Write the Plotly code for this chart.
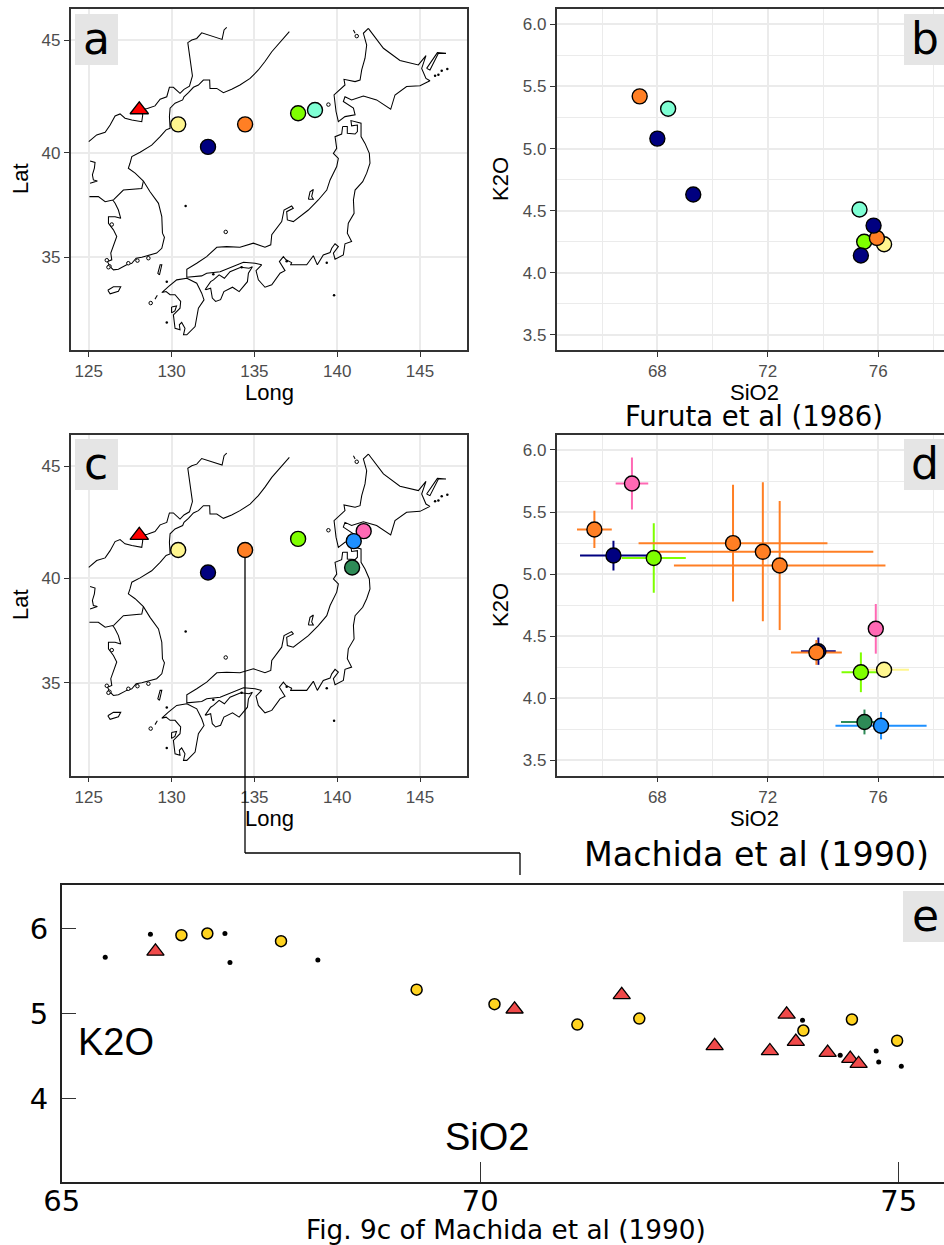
import math
import plotly.graph_objects as go

W, H = 944, 1245

# ---------- coastline polylines (long, lat) ----------
border_lon = [125.00,125.48,125.99,126.29,126.59,126.89,127.19,127.60,128.20,128.26,128.10,128.54,129.00,129.31,129.71,129.87,130.11,130.51,130.75,131.08,131.26,131.18,130.98,131.22,131.52,131.82,133.05,133.17,133.33]
border_lat = [40.51,40.82,40.94,41.27,41.68,41.77,41.58,41.50,41.42,41.73,41.95,42.01,42.13,42.43,42.54,42.96,42.96,42.69,42.87,43.01,43.46,43.94,44.90,45.01,45.08,45.32,45.04,45.44,45.55]
mainland_lon = [137.11,136.55,136.05,135.64,135.24,134.74,134.13,133.63,133.13,132.73,132.32,132.30,131.92,131.62,131.32,131.02,130.75,130.67,130.21,129.91,129.87,129.91,129.67,129.31,128.80,128.10,127.60,127.49,127.39,127.80,128.30,128.70,129.21,129.41,129.45,129.57,129.41,129.10,128.60,128.20,127.86,127.60,127.29,127.09,126.79,126.49,126.29,126.13,126.39,126.33,126.59,126.69,126.49,126.19,126.19,126.59,126.93,126.79,126.59,126.45,125.99,125.58,125.04]
mainland_lat = [45.37,44.94,44.51,44.09,43.72,43.35,43.06,42.87,42.72,42.91,42.91,43.28,43.28,43.06,42.96,42.72,42.54,42.40,42.25,42.03,41.65,41.12,41.05,40.74,40.35,40.02,39.82,39.51,39.28,39.05,38.68,38.17,37.62,36.98,36.18,35.98,35.44,35.20,35.08,35.00,34.95,34.70,34.62,34.53,34.40,34.37,34.53,34.78,34.87,35.20,35.77,36.02,36.34,36.66,36.98,36.98,36.90,37.30,37.62,37.78,37.70,37.94,37.94]
dmz_lon = [128.30,128.20,127.09,126.49]
dmz_lat = [38.68,38.33,38.25,37.78]
liaodong_lon = [125.08,125.38,125.34,125.22,125.28,125.52,125.08]
liaodong_lat = [39.62,39.55,39.28,38.97,38.73,38.68,38.57]
honshu_lon = [140.33,140.61,140.61,141.08,141.22,141.22,140.87,140.83,141.44,141.44,141.68,141.94,141.98,141.78,141.54,141.08,140.98,141.02,140.67,140.61,140.87,140.47,140.37,139.87,139.77,140.07,139.87,139.67,139.57,139.16,138.80,138.56,138.16,137.19,137.25,136.91,136.75,136.51,136.85,136.55,136.05,135.64,135.24,135.10,135.44,135.04,134.34,133.63,132.93,132.12,131.82,130.92,130.92,131.52,132.12,132.73,133.33,134.13,134.94,135.64,135.99,136.05,136.65,136.79,137.25,137.35,136.95,136.99,137.35,138.26,138.86,139.37,139.57,139.97,140.07,139.77,139.97,139.87,140.27,140.33]
honshu_lat = [41.20,41.20,40.89,40.86,40.97,41.27,41.23,41.47,41.35,40.74,40.43,39.97,39.51,39.05,38.65,38.25,37.78,37.14,36.66,36.18,35.77,35.66,35.11,34.90,35.20,35.52,35.66,35.44,35.23,35.11,34.62,35.07,34.62,34.62,34.73,34.87,35.03,34.78,34.33,34.20,33.62,33.50,33.87,34.33,34.62,34.70,34.75,34.53,34.28,34.20,34.07,34.00,34.40,34.70,35.03,35.49,35.52,35.49,35.69,35.49,35.61,36.10,36.74,37.30,37.49,37.38,37.22,36.82,36.74,37.30,37.78,38.25,38.73,39.36,39.74,39.97,40.20,40.74,40.86,41.20]
kyushu_lon = [130.92,131.52,131.82,131.96,131.62,131.42,130.92,130.72,130.81,130.61,130.47,130.51,130.21,130.11,130.51,130.55,130.21,129.91,129.67,129.41,129.81,130.31,130.92]
kyushu_lat = [33.95,33.70,33.20,32.86,32.44,31.50,31.07,31.07,31.41,31.71,31.59,31.33,31.41,32.10,32.44,32.78,33.12,33.12,33.28,33.23,33.53,33.87,33.95]
shikoku_lon = [132.06,132.36,132.46,132.66,132.96,133.16,133.68,134.08,134.58,134.64,134.88,134.68,134.18,133.53,133.19,132.87,132.53,132.36,132.02]
shikoku_lat = [33.37,33.45,32.95,32.78,32.87,33.28,33.50,33.28,33.78,34.20,34.53,34.45,34.50,34.28,33.95,34.12,33.87,33.78,33.37]
hokkaido_lon = [141.88,141.58,141.78,141.68,141.48,141.38,141.08,140.41,140.47,139.81,139.93,140.07,140.47,141.08,140.98,140.37,140.47,140.87,141.58,142.38,143.23,143.49,144.19,145.00,145.60,145.36,145.10,145.36,144.90,143.79,142.79,142.28,141.88]
hokkaido_lat = [45.51,45.30,44.80,44.23,43.72,43.28,43.21,43.31,43.06,42.62,41.88,41.42,41.65,41.73,42.03,42.33,42.54,42.40,42.57,42.40,41.98,42.62,42.99,43.03,43.25,43.35,43.79,44.34,43.94,44.13,44.66,45.16,45.51]
kunashiri_lon = [145.40,145.60,146.11,146.57,146.05,145.40]
kunashiri_lat = [43.79,43.72,44.44,44.44,44.47,43.79]
jeju_lon = [126.15,126.49,126.93,126.79,126.29,126.15]
jeju_lat = [33.35,33.52,33.52,33.30,33.17,33.35]
tsushima_lon = [129.27,129.41,129.31,129.17,129.27]
tsushima_lat = [34.12,34.62,34.62,34.20,34.12]
goto_lon = [129.00,129.14]
goto_lat = [32.90,33.10]
sado_lon = [138.26,138.36,138.56,138.46,138.56,138.26]
sado_lat = [37.81,38.17,38.28,37.95,37.81,37.81]
amakusa_lon = [130.00,130.30,130.20,130.00,130.00]
amakusa_lat = [32.50,32.55,32.30,32.20,32.50]
rebun_lon = [140.98,141.08]
rebun_lat = [45.44,45.30]
dot_lon = [145.91,146.11,146.31,146.65,130.85,129.71,129.71,139.81,139.37,134.23,132.52,136.95]
dot_lat = [43.47,43.51,43.69,43.76,37.49,33.77,31.71,33.10,34.73,34.50,34.15,34.80]
ring_lon = [133.27,128.74,141.18,139.47,128.60,127.94,126.25,126.39,127.39,126.19,126.09]
ring_lat = [36.24,32.70,45.18,42.19,34.95,34.83,34.55,36.60,34.70,34.50,34.85]

coast_lines = [(border_lon,border_lat),(mainland_lon,mainland_lat),(dmz_lon,dmz_lat),(liaodong_lon,liaodong_lat),
               (honshu_lon,honshu_lat),(kyushu_lon,kyushu_lat),(shikoku_lon,shikoku_lat),(hokkaido_lon,hokkaido_lat),
               (kunashiri_lon,kunashiri_lat),(jeju_lon,jeju_lat),(tsushima_lon,tsushima_lat),(goto_lon,goto_lat),
               (sado_lon,sado_lat),(amakusa_lon,amakusa_lat),(rebun_lon,rebun_lat)]

# ---------- volcano ----------
volcano_lon = [128.05]
volcano_lat = [41.96]

# ---------- panel a: sites ----------
a_lon = [130.40,134.44,132.20,137.64,138.66]
a_lat = [41.30,41.30,40.27,41.80,41.95]
a_col = ["#FFF68F","#FF7F24","#000080","#7FFF00","#7FFFD4"]

# ---------- panel c: sites ----------
c_lon = [130.40,134.44,132.20,137.64,141.60,141.00,140.90]
c_lat = [41.30,41.30,40.27,41.80,42.15,41.70,40.50]
c_col = ["#FFF68F","#FF7F24","#000080","#7FFF00","#FF69B4","#1E90FF","#2E8B57"]

# ---------- panel b: Furuta et al (1986) ----------
b_sio2 = [76.21,68.39,75.32,75.49,67.36,75.95,68.00,69.30,75.83,75.37]
b_k2o  = [4.23,5.32,4.51,4.25,5.42,4.28,5.08,4.63,4.38,4.14]
b_col  = ["#FFF68F","#7FFFD4","#7FFFD4","#7FFF00","#FF7F24","#FF7F24","#000080","#000080","#000080","#000080"]

# ---------- panel d: Machida et al (1990) ----------
d_sio2 = [67.08,65.72,66.41,67.87,70.74,71.82,72.43,73.83,73.76,75.91,75.37,76.21,75.50,76.10]
d_k2o  = [5.73,5.36,5.15,5.13,5.25,5.18,5.07,4.38,4.37,4.56,4.21,4.23,3.81,3.78]
d_xerr = [0.59,0.63,1.21,1.16,3.42,4.00,3.83,0.63,0.92,0.10,0.70,0.90,0.85,1.65]
d_yerr = [0.21,0.15,0.12,0.28,0.47,0.56,0.52,0.11,0.10,0.20,0.16,0.03,0.10,0.11]
d_col  = ["#FF69B4","#FF7F24","#000080","#7FFF00","#FF7F24","#FF7F24","#FF7F24","#000080","#FF7F24","#FF69B4","#7FFF00","#FFF68F","#2E8B57","#1E90FF"]

# ---------- panel e: Fig. 9c ----------
e_dot_sio2 = [65.52,66.06,66.95,67.01,68.06,73.85,74.30,74.73,74.76,75.03]
e_dot_k2o  = [5.66,5.93,5.94,5.60,5.63,4.92,4.51,4.56,4.43,4.38]
e_circ_sio2 = [66.43,66.74,67.62,69.24,70.17,71.16,71.90,73.86,74.44,74.98]
e_circ_k2o  = [5.92,5.94,5.85,5.28,5.11,4.87,4.94,4.80,4.93,4.68]
e_tri_sio2 = [66.12,70.41,71.69,72.80,73.46,73.66,73.77,74.15,74.42,74.52]
e_tri_k2o  = [5.73,5.05,5.22,4.62,4.56,4.99,4.67,4.54,4.47,4.41]

lon_ticks = [125,130,135,140,145]
lat_ticks = [35,40,45]
sio2_ticks = [68,72,76]
sio2_minor = [66,70,74,78]
k2o_ticks = [3.5,4.0,4.5,5.0,5.5,6.0]
k2o_minor = [3.75,4.25,4.75,5.25,5.75]
e_x_ticks = [65,70,75]
e_y_ticks = [4,5,6]

def merc(lat):
    return math.degrees(math.log(math.tan(math.pi/4 + math.radians(lat)/2)))

def mercs(vals):
    return [merc(v) for v in vals]

def px(x): return x / W
def py(y): return 1 - y / H

GRID = "#EBEBEB"; FRAME = "#333333"; TICKTXT = "#4D4D4D"
TICKF = dict(family="Liberation Sans", size=17, color=TICKTXT)
SITE = dict(size=15, line=dict(color="black", width=1.4))

fig = go.Figure()

def base_axis(domain, rng, **kw):
    d = dict(domain=domain, range=rng, showline=True, linecolor=FRAME, linewidth=1.6, automargin=False,
             ticks="outside", ticklen=5, tickwidth=1.3, tickcolor=FRAME, tickfont=TICKF,
             showgrid=True, gridcolor=GRID, gridwidth=1.8, zeroline=False)
    d.update(kw)
    return d

def map_panel(n, top, bottom, lons, lats, cols):
    xa = f"x{n}"; ya = f"y{n}"
    cx, cy = [], []
    for lo, la in coast_lines:
        cx += list(lo) + [None]
        cy += mercs(la) + [None]
    fig.add_trace(go.Scatter(x=cx, y=cy, mode="lines", line=dict(color="black", width=1.05),
                             xaxis=xa, yaxis=ya, hoverinfo="skip", showlegend=False))
    fig.add_trace(go.Scatter(x=dot_lon, y=mercs(dot_lat), mode="markers",
                             marker=dict(size=2.5, color="black"),
                             xaxis=xa, yaxis=ya, hoverinfo="skip", showlegend=False))
    fig.add_trace(go.Scatter(x=ring_lon, y=mercs(ring_lat), mode="markers",
                             marker=dict(size=3.5, color="white", line=dict(color="black", width=1)),
                             xaxis=xa, yaxis=ya, hoverinfo="skip", showlegend=False))
    fig.add_trace(go.Scatter(x=volcano_lon, y=mercs(volcano_lat), mode="markers",
                             marker=dict(symbol="triangle-up", size=16, color="#FF0000", line=dict(color="black", width=1.3)),
                             xaxis=xa, yaxis=ya, showlegend=False))
    fig.add_trace(go.Scatter(x=lons, y=mercs(lats), mode="markers",
                             marker=dict(color=cols, **SITE),
                             xaxis=xa, yaxis=ya, showlegend=False))
    fig.update_layout({
        f"xaxis{n}": base_axis([px(70.7), px(467.3)], [123.91, 147.855], tickvals=lon_ticks, mirror=True, anchor=ya),
        f"yaxis{n}": base_axis([py(bottom), py(top)], [31.80, 52.39],
                               tickvals=mercs(lat_ticks), ticktext=[str(v) for v in lat_ticks], mirror=True, anchor=xa),
    })

def geo_axes(n, top, bottom):
    xa = f"x{n}"; ya = f"y{n}"
    minor_style = dict(showgrid=True, gridcolor=GRID, gridwidth=0.9, ticks="")
    fig.update_layout({
        f"xaxis{n}": base_axis([px(556.7), 1], [64.355, 78.38], tickvals=sio2_ticks, mirror=True, anchor=ya,
                               minor=dict(tickvals=sio2_minor, **minor_style)),
        f"yaxis{n}": base_axis([py(bottom), py(top)], [3.379, 6.123], tickvals=k2o_ticks,
                               ticktext=[f"{v:.1f}" for v in k2o_ticks], anchor=xa,
                               minor=dict(tickvals=k2o_minor, **minor_style)),
    })

# a
map_panel(1, 9, 350, a_lon, a_lat, a_col)
# c
map_panel(3, 434.7, 775.5, c_lon, c_lat, c_col)

# b
fig.add_trace(go.Scatter(x=b_sio2, y=b_k2o, mode="markers",
                         marker=dict(color=b_col, **SITE),
                         xaxis="x2", yaxis="y2", showlegend=False))
geo_axes(2, 9, 350)

# d: error bars first, then all markers on top
for x, y, xe, ye, c in zip(d_sio2, d_k2o, d_xerr, d_yerr, d_col):
    fig.add_trace(go.Scatter(x=[x], y=[y], mode="markers", marker=dict(size=1, color=c, opacity=0),
                             error_x=dict(type="data", array=[xe], color=c, thickness=2, width=0),
                             error_y=dict(type="data", array=[ye], color=c, thickness=2, width=0),
                             xaxis="x4", yaxis="y4", hoverinfo="skip", showlegend=False))
fig.add_trace(go.Scatter(x=d_sio2, y=d_k2o, mode="markers",
                         marker=dict(color=d_col, **SITE),
                         xaxis="x4", yaxis="y4", showlegend=False))
geo_axes(4, 434.7, 775.5)

# e
fig.add_trace(go.Scatter(x=e_dot_sio2, y=e_dot_k2o, mode="markers", marker=dict(size=5, color="black"),
                         xaxis="x5", yaxis="y5", showlegend=False))
fig.add_trace(go.Scatter(x=e_circ_sio2, y=e_circ_k2o, mode="markers",
                         marker=dict(size=11, color="#FFD320", line=dict(color="black", width=1.5)),
                         xaxis="x5", yaxis="y5", showlegend=False))
fig.add_trace(go.Scatter(x=e_tri_sio2, y=e_tri_k2o, mode="markers",
                         marker=dict(symbol="triangle-up", size=15, color="#F04A4A", line=dict(color="black", width=1.3)),
                         xaxis="x5", yaxis="y5", showlegend=False))
EF = dict(family="DejaVu Sans", size=29, color="black")
fig.update_layout(
    xaxis5=dict(domain=[px(61.7), 1], range=[65.0, 75.54], tickvals=e_x_ticks, ticks="inside", ticklen=20,
                tickwidth=1.3, tickcolor=FRAME, tickfont=EF, showline=True, mirror=True, linecolor="#222222",
                linewidth=1.6, showgrid=False, zeroline=False, anchor="y5", automargin=False, ticklabelstandoff=-8),
    yaxis5=dict(domain=[py(1182), py(885)], range=[3.02, 6.51], tickvals=e_y_ticks, ticks="inside", ticklen=14,
                tickwidth=1.3, tickcolor=FRAME, tickfont=EF, showline=True, linecolor="#222222",
                linewidth=1.6, showgrid=False, zeroline=False, anchor="x5", ticklabelstandoff=6, automargin=False),
)

# panel letter boxes
boxes = [("a",75,118,14,65,96),("b",904,944,14,65,925),("c",75,118,439,490,96),("d",904,944,439,490,925),("e",903,944,891,942,925)]
shapes = []
annos = []
def text(t, x, y, size, family="Liberation Sans", color="black", angle=0):
    annos.append(dict(text=t, x=px(x), y=py(y), xref="paper", yref="paper", xanchor="center", yanchor="middle",
                      showarrow=False, textangle=angle, font=dict(family=family, size=size, color=color)))
for t, x0, x1, y0, y1, tx in boxes:
    shapes.append(dict(type="rect", xref="paper", yref="paper", x0=px(x0), x1=px(x1), y0=py(y0), y1=py(y1),
                       fillcolor="#E5E5E5", line=dict(width=0), layer="above"))
    text(t, tx, (y0+y1)/2 - 1, 44, family="DejaVu Sans")

# connector from the orange site to panel e
for (x0, y0, x1, y1) in [(245, 557, 245, 853), (245, 853, 520, 853), (520, 853, 520, 875)]:
    shapes.append(dict(type="line", xref="paper", yref="paper", x0=px(x0), x1=px(x1), y0=py(y0), y1=py(y1),
                       line=dict(color="black", width=1.3), layer="above"))

# axis titles
for yy in (393, 818):
    text("Long", 269, yy, 22)
    text("SiO2", 754, yy, 22)
for yy in (179, 605):
    text("Lat", 20, yy, 22, angle=-90)
    text("K2O", 500, yy, 22, angle=-90)
text("K2O", 116, 1042, 38)
text("SiO2", 487, 1137, 38)

# source titles
text("Furuta et al (1986)", 753.5, 416, 27.5, family="DejaVu Sans")
text("Machida et al (1990)", 756, 854, 33.3, family="DejaVu Sans")
text("Fig. 9c of Machida et al (1990)", 506, 1230, 26.3, family="DejaVu Sans")

fig.update_layout(width=W, height=H, autosize=False, margin=dict(l=0, r=0, t=0, b=0),
                  paper_bgcolor="white", plot_bgcolor="white", shapes=shapes, annotations=annos, showlegend=False)
fig.write_html("out.html", config=dict(displayModeBar=False),
               post_script="document.body.style.margin='0';document.documentElement.style.overflow='hidden';")
